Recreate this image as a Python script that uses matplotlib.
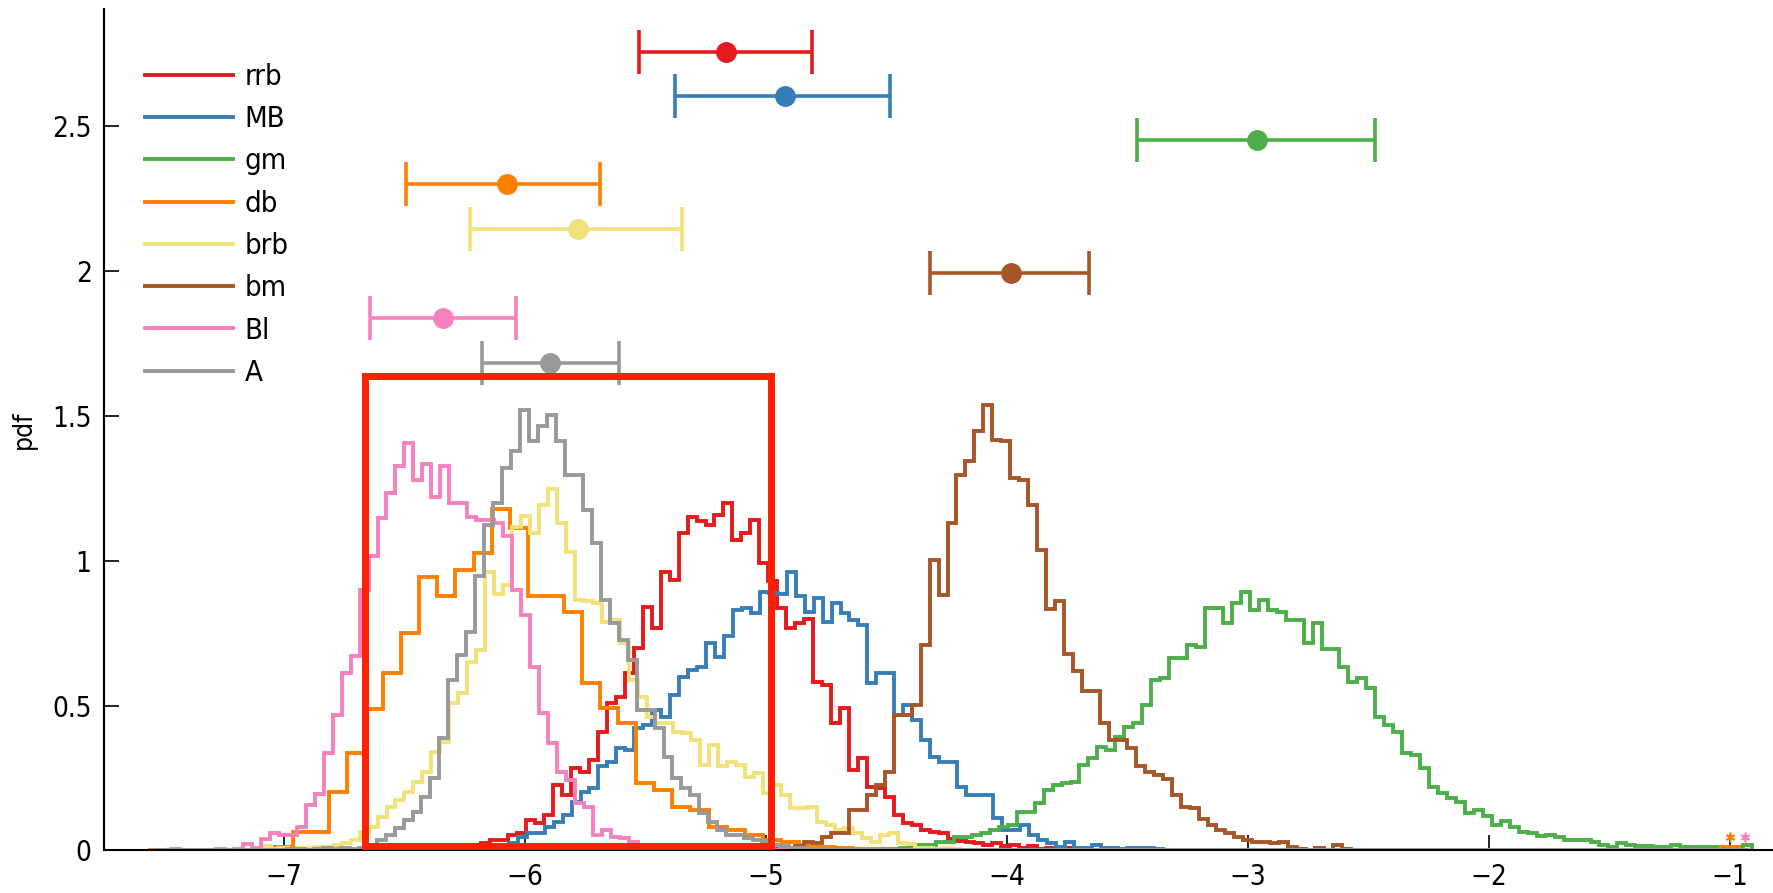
import matplotlib
matplotlib.use("Agg")
import matplotlib.pyplot as plt
import numpy as np
from matplotlib.lines import Line2D
from matplotlib.patches import Rectangle

# ── Data ─────────────────────────────────────────────────────────────────────
NAMES = ["rrb", "MB", "gm", "db", "brb", "bm", "Bl", "A"]
COLORS = ["#E41A1C", "#377EB8", "#4DAF4A", "#FF7F00",
          "#F2E27A", "#A65628", "#F781BF", "#999999"]

W_FINE = 0.0372      # bin width of most histograms
W_DB = 0.075         # db uses coarser bins

RRB_START = -6.293
RRB = [0.005, 0.01, 0.02, 0.025, 0.036, 0.036, 0.054, 0.06, 0.105, 0.094,
       0.122, 0.226, 0.192, 0.284, 0.272, 0.313, 0.41, 0.508, 0.531, 0.612,
       0.698, 0.842, 0.767, 0.963, 0.934, 1.096, 1.153, 1.136, 1.124, 1.159,
       1.199, 1.073, 1.096, 1.142, 0.992, 0.929, 0.837, 0.767, 0.785, 0.798,
       0.583, 0.572, 0.439, 0.491, 0.278, 0.318, 0.22, 0.215, 0.186, 0.122,
       0.094, 0.088, 0.071, 0.065, 0.059, 0.038, 0.034, 0.03, 0.025, 0.02,
       0.025, 0.015, 0.02, 0.01, 0.015, 0.005, 0.01, 0.005, 0.008, 0.003, 0.005]

MB_START = -6.142
MB = [0.01, 0.015, 0.025, 0.048, 0.06, 0.06, 0.082, 0.10, 0.122, 0.169,
      0.203, 0.215, 0.29, 0.307, 0.353, 0.347, 0.422, 0.433, 0.485, 0.462,
      0.537, 0.60, 0.623, 0.635, 0.716, 0.669, 0.739, 0.831, 0.837, 0.819,
      0.894, 0.888, 0.886, 0.96, 0.877, 0.825, 0.871, 0.79, 0.854, 0.819,
      0.796, 0.779, 0.577, 0.612, 0.614, 0.468, 0.502, 0.451, 0.382, 0.324,
      0.307, 0.307, 0.22, 0.192, 0.192, 0.19, 0.111, 0.071, 0.071, 0.088,
      0.054, 0.036, 0.025, 0.013, 0.03, 0.01, 0.01, 0.019, 0.01, 0.01,
      0.005, 0.01, 0.01, 0.01, 0.005]

GM_START = -4.518
GM = [0.005, 0.005, 0.01, 0.012, 0.02, 0.02, 0.03, 0.03, 0.048, 0.048,
      0.054, 0.059, 0.071, 0.082, 0.088, 0.134, 0.134, 0.163, 0.209, 0.226,
      0.234, 0.238, 0.295, 0.318, 0.359, 0.347, 0.393, 0.428, 0.439, 0.502,
      0.589, 0.595, 0.664, 0.664, 0.71, 0.704, 0.837, 0.837, 0.785, 0.854,
      0.894, 0.83, 0.865, 0.831, 0.822, 0.796, 0.796, 0.716, 0.785, 0.694,
      0.694, 0.635, 0.58, 0.595, 0.56, 0.462, 0.433, 0.41, 0.336, 0.33,
      0.284, 0.22, 0.198, 0.18, 0.168, 0.13, 0.14, 0.119, 0.088, 0.103,
      0.08, 0.065, 0.059, 0.05, 0.054, 0.045, 0.036, 0.036, 0.036, 0.03,
      0.019, 0.013, 0.025, 0.02, 0.017, 0.017, 0.011, 0.011, 0.018, 0.011,
      0.011, 0.011, 0.011, 0.011, 0.011, 0.011, 0.019]

DB_START = -7.114
DB = [0.005, 0.012, 0.065, 0.065, 0.203, 0.336, 0.488, 0.612, 0.75, 0.943,
      0.877, 0.969, 1.026, 1.178, 1.113, 0.877, 0.877, 0.822, 0.577, 0.491,
      0.44, 0.232, 0.209, 0.151, 0.14, 0.082, 0.071, 0.053, 0.036, 0.03,
      0.019, 0.013, 0.008, 0.005, 0.005]
DB_END_X = -1.039    # lone bin near -1
DB_END_H = 0.012

BRB_START = -7.133
BRB = [0.005, 0.015, 0.005, 0.008, 0.005, 0.01, 0.01, 0.013, 0.013, 0.02,
       0.025, 0.036, 0.065, 0.082, 0.117, 0.151, 0.175, 0.203, 0.238, 0.272,
       0.341, 0.376, 0.508, 0.543, 0.652, 0.692, 0.963, 0.886, 0.917, 1.118,
       1.155, 1.096, 1.194, 1.247, 1.13, 1.032, 0.865, 0.86, 0.854, 0.79,
       0.796, 0.716, 0.589, 0.531, 0.462, 0.439, 0.439, 0.41, 0.405, 0.382,
       0.295, 0.365, 0.29, 0.307, 0.295, 0.255, 0.267, 0.198, 0.226, 0.192,
       0.146, 0.146, 0.151, 0.10, 0.088, 0.071, 0.077, 0.059, 0.042, 0.03,
       0.054, 0.059, 0.025, 0.022, 0.01, 0.01, 0.005, 0.008, 0.005, 0.003]

BM_START = -4.954
BM = [0.005, 0.01, 0.015, 0.03, 0.025, 0.048, 0.059, 0.059, 0.14, 0.14,
      0.192, 0.226, 0.272, 0.468, 0.468, 0.502, 0.71, 1.003, 0.883, 1.13,
      1.297, 1.343, 1.447, 1.539, 1.418, 1.412, 1.286, 1.28, 1.193, 1.038,
      0.834, 0.86, 0.678, 0.62, 0.552, 0.549, 0.439, 0.382, 0.382, 0.353,
      0.292, 0.27, 0.262, 0.246, 0.19, 0.151, 0.145, 0.108, 0.088, 0.071,
      0.059, 0.048, 0.036, 0.03, 0.03, 0.025, 0.03, 0.013, 0.005, 0.0,
      0.01, 0.0, 0.019, 0.005]

BL_START = -7.468
BL = [0.005, 0.0, 0.0, 0.0, 0.0, 0.005, 0.0, 0.005, 0.022, 0.01,
      0.04, 0.06, 0.055, 0.055, 0.082, 0.157, 0.195, 0.336, 0.468, 0.612,
      0.672, 0.90, 1.015, 1.147, 1.234, 1.328, 1.406, 1.28, 1.335, 1.22,
      1.326, 1.20, 1.20, 1.153, 1.14, 1.14, 1.13, 1.084, 0.90, 0.813,
      0.635, 0.476, 0.37, 0.272, 0.243, 0.163, 0.151, 0.054, 0.07, 0.048,
      0.042, 0.03, 0.012, 0.008, 0.01, 0.005, 0.003, 0.005, 0.0, 0.003]

A_START = -6.988
A = [0.005, 0.005, 0.0, 0.005, 0.008, 0.005, 0.01, 0.005, 0.01, 0.02,
     0.035, 0.054, 0.077, 0.105, 0.134, 0.186, 0.249, 0.388, 0.589, 0.675,
     0.756, 0.946, 1.124, 1.199, 1.32, 1.378, 1.522, 1.412, 1.464, 1.504,
     1.412, 1.297, 1.297, 1.176, 1.061, 0.865, 0.785, 0.727, 0.658, 0.485,
     0.485, 0.422, 0.324, 0.249, 0.215, 0.19, 0.13, 0.10, 0.07, 0.054,
     0.054, 0.042, 0.036, 0.03, 0.02, 0.015, 0.01, 0.008, 0.005, 0.005, 0.003]

# mean and interval of each posterior (error bars at the top)
EB_Y = [2.758, 2.606, 2.453, 2.302, 2.145, 1.993, 1.84, 1.684]
EB_MID = [-5.166, -4.921, -2.962, -6.076, -5.78, -3.984, -6.34, -5.898]
EB_LO = [-5.527, -5.378, -3.459, -6.494, -6.228, -4.322, -6.644, -6.18]
EB_HI = [-4.809, -4.486, -2.473, -5.689, -5.349, -3.66, -6.039, -5.612]

# small asterisks near x = -1
STAR_X = [-1.0, -0.94]
STAR_Y = [0.045, 0.045]
STAR_C = ["#FF7F00", "#F781BF"]

# red highlight box (x0, y0, x1, y1 in data units)
BOX = [-6.664, 0.016, -4.979, 1.639]

XMIN, XMAX = -7.53, -0.93
XTICKS = [-7, -6, -5, -4, -3, -2, -1]
YTICKS = [0, 0.5, 1, 1.5, 2, 2.5]
YTICK_LABELS = ["0", "0.5", "1", "1.5", "2", "2.5"]

FONT = ["Liberation Sans Narrow", "DejaVu Sans"]
plt.rcParams["font.family"] = FONT
plt.rcParams["font.stretch"] = "condensed"


def padded(start, width, vals):
    """zero-pad a histogram so every series spans XMIN..XMAX"""
    n_left = int(round((start - XMIN) / width))
    n_right = int(round((XMAX - (start + len(vals) * width)) / width))
    v = np.concatenate([np.zeros(max(n_left, 0)), vals, np.zeros(max(n_right, 0))])
    edges = start - n_left * width + width * np.arange(len(v) + 1)
    return v, edges


# db has a lone bin close to -1
db_gap = int(round((DB_END_X - (DB_START + len(DB) * W_DB)) / W_DB))
db_full = np.concatenate([DB, np.zeros(db_gap), [DB_END_H]])

series = [
    (RRB_START, W_FINE, RRB),
    (MB_START, W_FINE, MB),
    (GM_START, W_FINE, GM),
    (DB_START, W_DB, db_full),
    (BRB_START, W_FINE, BRB),
    (BM_START, W_FINE, BM),
    (BL_START, W_FINE, BL),
    (A_START, W_FINE, A),
]

# ── Plot ──────────────────────────────────────────────────────────────────────
fig = plt.figure(figsize=(17.73, 8.93), dpi=100)
ax = fig.add_axes([0.0587, 0.0476, 0.9413, 0.9423])

for (start, width, vals), color in zip(series, COLORS):
    v, edges = padded(start, width, np.asarray(vals, dtype=float))
    ax.stairs(v, edges, color=color, linewidth=2.8, baseline=0, zorder=2)

for i, color in enumerate(COLORS):
    ax.errorbar(EB_MID[i], EB_Y[i],
                xerr=[[EB_MID[i] - EB_LO[i]], [EB_HI[i] - EB_MID[i]]],
                fmt="o", color=color, ms=14, lw=2.6, capsize=15.5,
                capthick=2.6, zorder=3)

for x, y, c in zip(STAR_X, STAR_Y, STAR_C):
    ax.plot(x, y, marker=(6, 2, 0), color=c, ms=7, mew=1.2, zorder=3)

ax.add_patch(Rectangle((BOX[0], BOX[1]), BOX[2] - BOX[0], BOX[3] - BOX[1],
                       fill=False, edgecolor="#FF2000", linewidth=5, zorder=5))

ax.set_xlim(-7.747, -0.822)
ax.set_ylim(0, 2.905)
ax.set_xticks(XTICKS)
ax.set_yticks(YTICKS)
ax.set_yticklabels(YTICK_LABELS)
ax.tick_params(direction="in", length=11, width=1.2, labelsize=20, pad=9)
for side in ["top", "right"]:
    ax.spines[side].set_visible(False)
for side in ["left", "bottom"]:
    ax.spines[side].set_linewidth(1.5)
ax.set_ylabel("pdf", fontsize=19, labelpad=11)

handles = [Line2D([], [], color=c, lw=2.8) for c in COLORS]
ax.legend(handles, NAMES, loc="upper left", bbox_to_anchor=(0.0246, 0.936),
          frameon=False, borderpad=0, borderaxespad=0, handlelength=3.0,
          handletextpad=0.4, labelspacing=0.49, prop={"size": 21})

plt.savefig("out.png", dpi=100)
